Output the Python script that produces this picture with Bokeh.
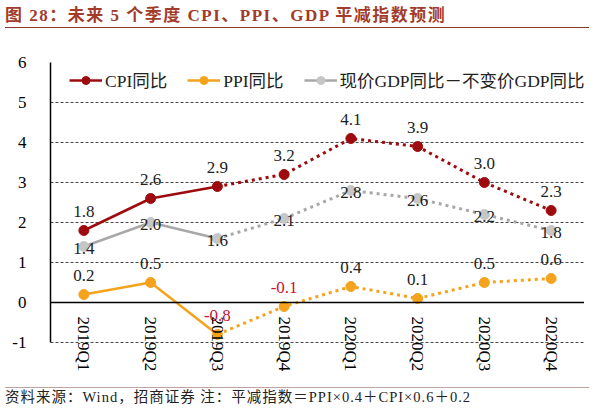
import math
from bokeh.plotting import figure
from bokeh.models import (FactorRange, Range1d, FixedTicker, Legend, LegendItem, Div)
from bokeh.layouts import column
from bokeh.core.properties import value
from bokeh.embed import file_html
from bokeh.resources import INLINE

# ---- data ----
quarters = ["2019Q1", "2019Q2", "2019Q3", "2019Q4", "2020Q1", "2020Q2", "2020Q3", "2020Q4"]
cpi = [1.8, 2.6, 2.9, 3.2, 4.1, 3.9, 3.0, 2.3]
ppi = [0.2, 0.5, -0.8, -0.1, 0.4, 0.1, 0.5, 0.6]
gdp_gap = [1.4, 2.0, 1.6, 2.1, 2.8, 2.6, 2.2, 1.8]
n_actual = 3  # first three quarters are actual values (solid), rest forecast (dotted)
y_ticks = [-1, 0, 1, 2, 3, 4, 5, 6]
y_tick_labels = ["-1", "0", "1", "2", "3", "4", "5", "6"]

title_text = "图 28：未来 5 个季度 CPI、PPI、GDP 平减指数预测"
source_text = "资料来源：Wind，招商证券 注：平减指数＝PPI×0.4＋CPI×0.6＋0.2"
legend_labels = ["CPI同比", "PPI同比", "现价GDP同比－不变价GDP同比"]

FONT = "'Liberation Serif', 'Noto Sans CJK SC'"
CPI_C = "#9E0B0F"
PPI_C = "#F5A21C"
GDP_LINE = "#A8A8A8"
GDP_MARK = "#C6C6C6"
NEG_C = "#CC1133"

W = 584

p = figure(width=W, height=349, x_range=FactorRange(*quarters), y_range=Range1d(-1.9, 6),
           output_backend="svg", toolbar_location=None,
           min_border_left=50, min_border_right=0, min_border_top=29, min_border_bottom=4)
p.outline_line_color = None
p.background_fill_color = "white"

# axes
p.yaxis.ticker = FixedTicker(ticks=y_ticks)
p.yaxis.major_label_overrides = dict(zip(y_ticks, y_tick_labels))
p.yaxis.bounds = (-1, 6)
p.yaxis.major_tick_line_color = None
p.yaxis.minor_tick_line_color = None
p.yaxis.axis_line_color = "black"
p.yaxis.axis_line_width = 1.5
p.yaxis.major_label_standoff = 18
p.yaxis.major_label_text_font = FONT
p.yaxis.major_label_text_font_size = "17px"
p.yaxis.major_label_text_color = "black"

p.xaxis.fixed_location = 0
p.xaxis.major_tick_line_color = None
p.xaxis.axis_line_color = "black"
p.xaxis.axis_line_width = 1.5
p.xaxis.major_label_orientation = -math.pi / 2
p.xaxis.major_label_standoff = 8
p.xaxis.major_label_text_font = FONT
p.xaxis.major_label_text_font_size = "17px"
p.xaxis.major_label_text_color = "black"

p.xgrid.visible = False
p.ygrid.ticker = FixedTicker(ticks=y_ticks)
p.ygrid.grid_line_color = "#4a4a4a"
p.ygrid.grid_line_dash = "3 2"
p.ygrid.grid_line_width = 1

DOT = "3 4"

def series(vals, line_c, mark_c):
    solid = p.line(quarters[:n_actual], vals[:n_actual], line_color=line_c, line_width=2.5)
    p.line(quarters[n_actual - 1:], vals[n_actual - 1:], line_color=line_c, line_width=3,
           line_dash=DOT)
    marks = p.scatter(quarters, vals, size=10, fill_color=mark_c, line_color=mark_c)
    return solid, marks

g_solid, g_marks = series(gdp_gap, GDP_LINE, GDP_MARK)
o_solid, o_marks = series(ppi, PPI_C, PPI_C)
c_solid, c_marks = series(cpi, CPI_C, CPI_C)

# data labels
def fmt(vals):
    return [f"{v:.1f}" for v in vals]

p.text(x=quarters, y=gdp_gap, text=fmt(gdp_gap), y_offset=2, text_align="center",
       text_baseline="middle", text_font=value(FONT), text_font_size="17px", text_color="#222222")
p.text(x=quarters, y=cpi, text=fmt(cpi), y_offset=-19, text_align="center",
       text_baseline="middle", text_font=value(FONT), text_font_size="17px", text_color="#222222")
ppi_colors = [NEG_C if v < 0 else "#222222" for v in ppi]
p.text(x=quarters, y=ppi, text=fmt(ppi), y_offset=-19, text_align="center",
       text_baseline="middle", text_font=value(FONT), text_font_size="17px", text_color=ppi_colors)

legend = Legend(items=[
    LegendItem(label=legend_labels[0], renderers=[c_solid, c_marks]),
    LegendItem(label=legend_labels[1], renderers=[o_solid, o_marks]),
    LegendItem(label=legend_labels[2], renderers=[g_solid, g_marks]),
], orientation="horizontal", location=(19, 286))
legend.border_line_color = None
legend.background_fill_alpha = 0
legend.padding = 0
legend.margin = 0
legend.spacing = 20
legend.glyph_width = 33
legend.glyph_height = 20
legend.label_height = 20
legend.label_standoff = 3
legend.label_text_font = FONT
legend.label_text_font_size = "17.5px"
legend.label_text_color = "#222222"
legend.label_text_baseline = "middle"
p.add_layout(legend, "center")

title = Div(text=title_text, width=W, height=23, styles={
    "font-family": FONT, "font-size": "17px", "font-weight": "bold", "color": "#A23B2A",
    "border-bottom": "1.5px solid #8B3A30", "box-sizing": "border-box",
    "line-height": "21px", "letter-spacing": "1.5px", "white-space": "nowrap",
    "width": f"{W}px", "overflow": "hidden"})
source = Div(text=source_text, width=W, height=20, styles={
    "font-family": FONT, "font-size": "14.5px", "color": "#222222",
    "border-top": "1.5px solid #BFA3A3", "box-sizing": "border-box",
    "line-height": "18px", "letter-spacing": "1px", "white-space": "nowrap",
    "width": f"{W}px", "overflow": "hidden"})

layout = column(title, p, source, spacing=0)

open("out.html", "w").write(file_html(layout, INLINE))
